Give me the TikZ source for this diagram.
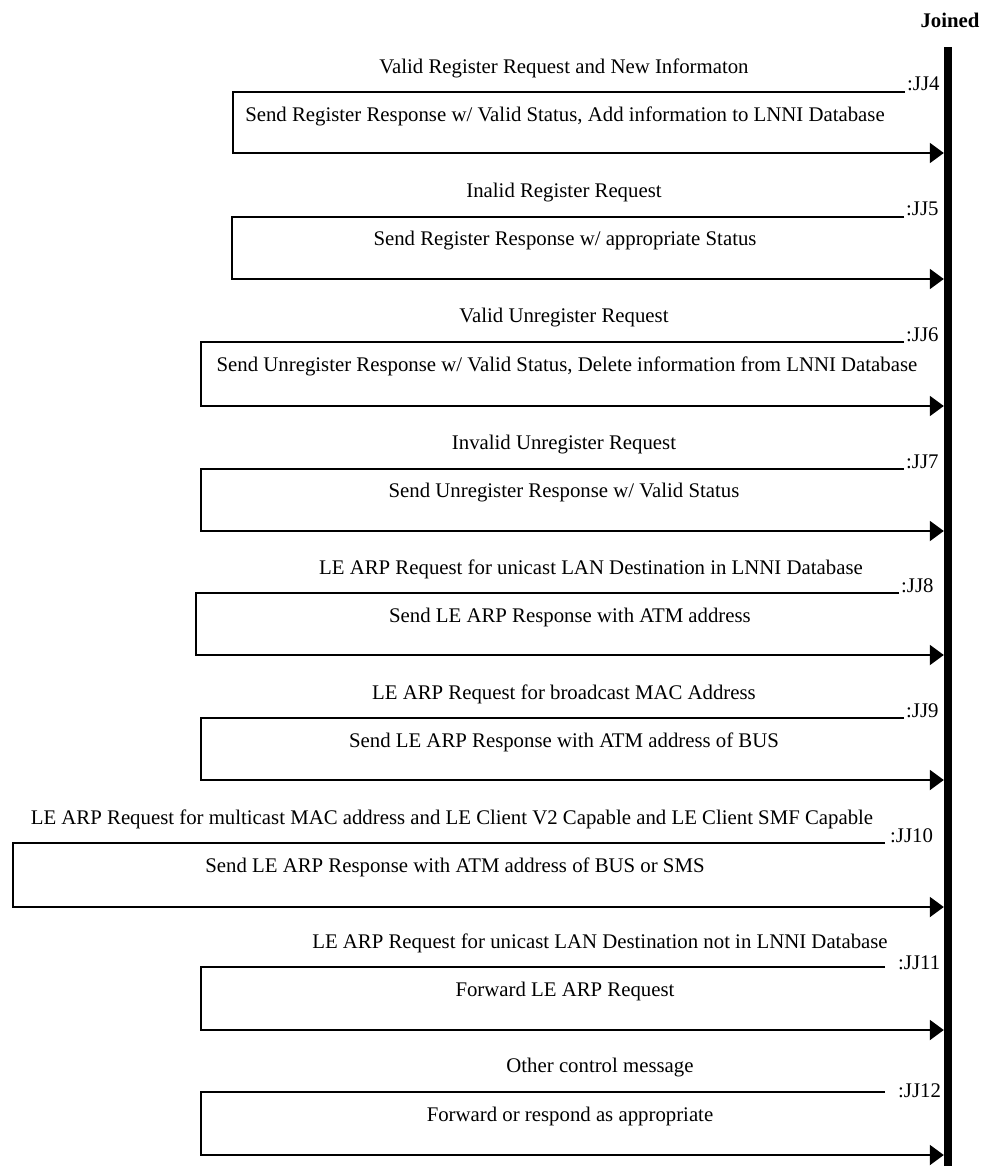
\documentclass[tikz,border=0pt]{standalone}
\usepackage{fontspec}
\setmainfont{Liberation Serif}
\usetikzlibrary{arrows.meta}

% offsets of the :JJ label from the end of the trigger line
\def\lbldx{2}
\def\lbldy{-1}

% One transition of the state: trigger line with its event text,
% response text, and the arrow that returns to the state bar.
% #1 id, #2 y of trigger line, #3 left x, #4 right end of trigger line,
% #5 y of return arrow, #6 x of event text, #7 event text,
% #8 x of response text, #9 response text
\newcommand\jjblock[9]{%
  \coordinate (t#1) at (#4,#2);
  \coordinate (l#1) at (#3,#2);
  \coordinate (b#1) at (#3,#5);
  \node[msg] (trig#1) at (#6,#2-24) {#7};
  \node[msg] (resp#1) at (#8,#2+24) {#9};
  \node[jjlabel] (lbl#1) at (#4+\lbldx,#2+\lbldy) {:JJ#1};
  \draw[wire,-{Triangle[length=14pt,width=20pt]}]
    (t#1) -- (l#1) -- (b#1) -- (b#1 -| bar.west);
}

\begin{document}
\begin{tikzpicture}[x=1pt,y=-1pt,
  msg/.style={font=\fontsize{20.8}{23}\selectfont, inner sep=0pt},
  jjlabel/.style={font=\fontsize{20.8}{23}\selectfont, inner sep=0pt, anchor=base west},
  wire/.style={line width=2pt, line join=miter}]
\useasboundingbox (0,0) rectangle (982,1166);

% state bar and its name
\node[fill=black, inner sep=0pt, minimum width=8pt, minimum height=1119pt, anchor=north]
  (bar) at (948,47) {};
\node[font=\fontsize{20.8}{23}\selectfont\bfseries, inner sep=0pt] (joined) at (950,20) {Joined};

\jjblock{4}{92}{233}{905}{153}{564}{Valid Register Request and New Informaton}{565}{Send Register Response w/ Valid Status, Add information to LNNI Database}
\jjblock{5}{217}{232}{904}{279}{564}{Inalid Register Request}{565}{Send Register Response w/ appropriate Status}
\jjblock{6}{342}{201}{904}{406}{564}{Valid Unregister Request}{567}{Send Unregister Response w/ Valid Status, Delete information from LNNI Database}
\jjblock{7}{469}{201}{904}{531}{564}{Invalid Unregister Request}{564}{Send Unregister Response w/ Valid Status}
\jjblock{8}{593}{196}{899}{655}{591}{LE ARP Request for unicast LAN Destination in LNNI Database}{570}{Send LE ARP Response with ATM address}
\jjblock{9}{718}{201}{904}{780}{564}{LE ARP Request for broadcast MAC Address}{564}{Send LE ARP Response with ATM address of BUS}
\def\lbldx{5}
\jjblock{10}{843}{13}{885}{907}{452}{LE ARP Request for multicast MAC address and LE Client V2 Capable and LE Client SMF Capable}{455}{Send LE ARP Response with ATM address of BUS or SMS}
\def\lbldx{13}\def\lbldy{2}
\jjblock{11}{967}{201}{885}{1030}{600}{LE ARP Request for unicast LAN Destination not in LNNI Database}{565}{Forward LE ARP Request}
\def\lbldy{5}
\jjblock{12}{1092}{201}{885}{1155}{600}{Other control message}{570}{Forward or respond as appropriate}
\end{tikzpicture}
\end{document}
